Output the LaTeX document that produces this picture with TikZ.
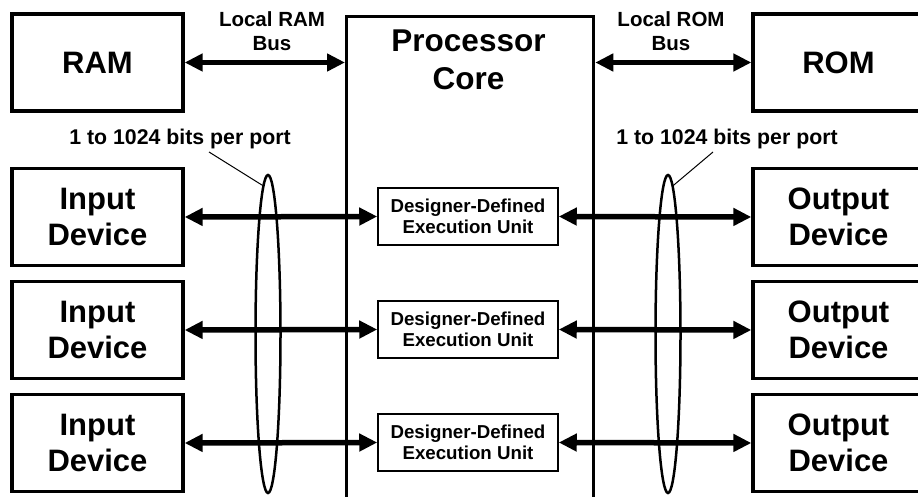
\documentclass[tikz,border=0pt]{standalone}
\usepackage{fontspec}
\setmainfont{Liberation Sans}
\usetikzlibrary{arrows.meta,shapes.geometric}
\begin{document}
\begin{tikzpicture}[x=1pt,y=-1pt,
  box/.style={draw,line width=3.3pt,minimum width=171pt,minimum height=97pt,inner sep=0pt,align=center,
    font=\bfseries\fontsize{31}{36}\selectfont},
  exec/.style={draw,line width=1.5pt,minimum width=180pt,minimum height=57pt,inner sep=0pt,align=center,
    font=\bfseries\fontsize{18.7}{21}\selectfont},
  lbl/.style={align=center,inner sep=0pt,font=\bfseries\fontsize{20.5}{24}\selectfont},
  bitslbl/.style={inner sep=0pt,font=\bfseries\fontsize{21.3}{24}\selectfont},
  bus/.style={line width=5.5pt,{Triangle[length=18pt,width=17pt]}-{Triangle[length=18pt,width=17pt]}},
  bundle/.style={draw,ellipse,line width=2.5pt,minimum width=25pt,minimum height=318pt,inner sep=0pt},
  leader/.style={line width=1pt}]
\useasboundingbox (0,0) rectangle (918,497);
\clip (0,0) rectangle (918,497);
\fill[white] (0,0) rectangle (918,497);
% processor core
\node[draw,line width=3.3pt,minimum width=247pt,minimum height=540pt,anchor=north west,inner sep=0pt] (core) at (345,15) {};
\node[align=center,inner sep=0pt,font=\bfseries\fontsize{31.5}{38}\selectfont] (coretxt) at (468.5,60) {Processor\\Core};
% memories
\node[box] (ram) at (97.5,62.5) {RAM};
\node[box] (rom) at (838.5,62.5) {ROM};
% devices
\node[box] (in1) at (97.5,217) {Input\\Device};
\node[box] (in2) at (97.5,330) {Input\\Device};
\node[box] (in3) at (97.5,443) {Input\\Device};
\node[box] (out1) at (838.5,217) {Output\\Device};
\node[box] (out2) at (838.5,330) {Output\\Device};
\node[box] (out3) at (838.5,443) {Output\\Device};
% execution units
\node[exec] (ex1) at (468,216.5) {Designer-Defined\\Execution Unit};
\node[exec] (ex2) at (468,329.5) {Designer-Defined\\Execution Unit};
\node[exec] (ex3) at (468,442.5) {Designer-Defined\\Execution Unit};
% bundles
\node[bundle] (bL) at (268,334) {};
\node[bundle] (bR) at (668,334) {};
% labels
\node[lbl] (ramlbl) at (272,31) {Local RAM\\Bus};
\node[lbl] (romlbl) at (671,31) {Local ROM\\Bus};
\node[bitslbl] (bitsL) at (180,139) {1 to 1024 bits per port};
\node[bitslbl] (bitsR) at (727,139) {1 to 1024 bits per port};
\coordinate (lL) at (209,152);
\coordinate (lR) at (713,152);
\draw[leader] (lL) -- (bL.92);
\draw[leader] (lR) -- (bR.88);
% buses
\draw[bus] (ram.east) -- (ram.east -| core.west);
\draw[bus] (rom.west) -- (rom.west -| core.east);
\draw[bus] (in1.east) -- (ex1.west);
\draw[bus] (in2.east) -- (ex2.west);
\draw[bus] (in3.east) -- (ex3.west);
\draw[bus] (ex1.east) -- (out1.west);
\draw[bus] (ex2.east) -- (out2.west);
\draw[bus] (ex3.east) -- (out3.west);
\end{tikzpicture}
\end{document}
